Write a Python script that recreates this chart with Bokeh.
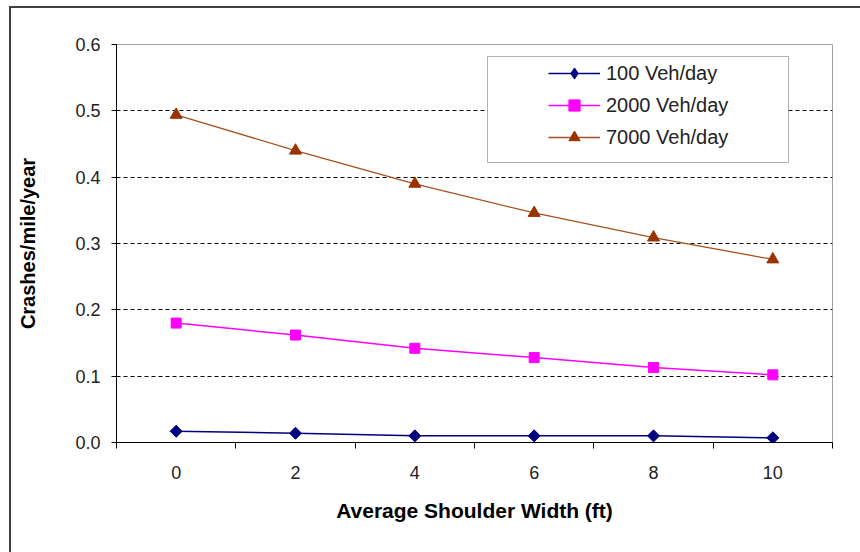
import numpy as np
from bokeh.plotting import figure
from bokeh.models import (Range1d, FixedTicker, Legend, LegendItem, BoxAnnotation,
                          PrintfTickFormatter)
from bokeh.embed import file_html
from bokeh.resources import INLINE

# Crash rate versus average shoulder width, by traffic volume
shoulder_width = [0, 2, 4, 6, 8, 10]
crashes_100 = [0.017, 0.014, 0.010, 0.010, 0.010, 0.007]
crashes_2000 = [0.180, 0.162, 0.142, 0.128, 0.113, 0.102]
crashes_7000 = [0.494, 0.440, 0.390, 0.346, 0.309, 0.276]
series_labels = ["100 Veh/day", "2000 Veh/day", "7000 Veh/day"]
y_ticks = [0.0, 0.1, 0.2, 0.3, 0.4, 0.5, 0.6]
category_edges = [-1, 1, 3, 5, 7, 9, 11]

FONT = "Liberation Sans"

p = figure(width=860, height=552, output_backend="svg", toolbar_location=None,
           x_range=Range1d(-1, 11), y_range=Range1d(0, 0.6),
           min_border_left=116, min_border_right=28,
           min_border_top=44, min_border_bottom=110,
           background_fill_color="white", border_fill_alpha=0)

# chart-area border (top and left edges) drawn behind the transparent canvas border
p.styles = {
    "background": ("linear-gradient(#404040, #404040) 9px 6px / 2px 100% no-repeat, "
                   "linear-gradient(#404040, #404040) 9px 6px / 100% 2px no-repeat, "
                   "white"),
}

p.outline_line_color = "#a0a0a0"
p.outline_line_width = 1

# x axis: category boundaries get the tick marks, category centres get the labels
p.xaxis.ticker = FixedTicker(ticks=shoulder_width, minor_ticks=category_edges)
p.xaxis.major_tick_out = 0
p.xaxis.major_tick_in = 0
p.xaxis.minor_tick_out = 6
p.xaxis.minor_tick_in = 0
p.xaxis.minor_tick_line_color = "black"
p.xaxis.major_label_standoff = 17
p.xaxis.axis_label = "Average Shoulder Width (ft)"
p.xaxis.axis_label_standoff = 17

p.yaxis.ticker = FixedTicker(ticks=y_ticks, minor_ticks=[])
p.yaxis.formatter = PrintfTickFormatter(format="%.1f")
p.yaxis.major_tick_out = 5
p.yaxis.major_tick_in = 0
p.yaxis.minor_tick_line_color = None
p.yaxis.major_label_standoff = 11
p.yaxis.axis_label = "Crashes/mile/year"
p.yaxis.axis_label_standoff = 33

for ax in (p.xaxis, p.yaxis):
    ax.axis_line_color = "black"
    ax.axis_line_width = 1
    ax.major_tick_line_color = "black"
    ax.major_label_text_font = FONT
    ax.major_label_text_font_size = "18px"
    ax.major_label_text_color = "#222222"
    ax.axis_label_text_font = FONT
    ax.axis_label_text_font_style = "bold"
    ax.axis_label_text_color = "black"
p.xaxis.axis_label_text_font_size = "21px"
p.yaxis.axis_label_text_font_size = "20px"

p.xgrid.visible = False
p.ygrid.ticker = FixedTicker(ticks=y_ticks[1:-1])
p.ygrid.grid_line_color = "black"
p.ygrid.grid_line_width = 1
p.ygrid.grid_line_dash = "4 3"

navy = "#000080"
magenta = "#FF00FF"
brown = "#993300"

l100 = p.line(shoulder_width, crashes_100, line_color=navy, line_width=1.5)
m100 = p.scatter(shoulder_width, crashes_100, marker="square", angle=np.pi / 4,
                 size=8.5, fill_color=navy, line_color=navy)
l2000 = p.line(shoulder_width, crashes_2000, line_color=magenta, line_width=1.5)
m2000 = p.scatter(shoulder_width, crashes_2000, marker="square", size=10,
                  fill_color=magenta, line_color=magenta)
l7000 = p.line(shoulder_width, crashes_7000, line_color="#a8501e", line_width=1.3)
m7000 = p.scatter(shoulder_width, crashes_7000, marker="triangle", size=12,
                  fill_color=brown, line_color=brown)

# legend swatch for the diamond series (legend markers are drawn unrotated)
k100 = p.scatter(shoulder_width, crashes_100, marker="diamond",
                 fill_color=navy, line_color=navy, visible=False)

# legend frame
p.add_layout(BoxAnnotation(left=487, right=788, top=56, bottom=162,
                           left_units="canvas", right_units="canvas",
                           top_units="canvas", bottom_units="canvas",
                           fill_color="white", fill_alpha=1,
                           line_color="black", line_width=1))

legend = Legend(items=[LegendItem(label=series_labels[0], renderers=[l100, k100]),
                       LegendItem(label=series_labels[1], renderers=[l2000, m2000]),
                       LegendItem(label=series_labels[2], renderers=[l7000, m7000])],
                location=(432, 291), padding=0, margin=0, spacing=4,
                glyph_width=52, glyph_height=28, label_height=20, label_standoff=6,
                border_line_alpha=0, background_fill_alpha=0,
                label_text_font=FONT, label_text_font_size="20px",
                label_text_color="#222222")
p.add_layout(legend)

open("out.html", "w").write(file_html(p, INLINE))
